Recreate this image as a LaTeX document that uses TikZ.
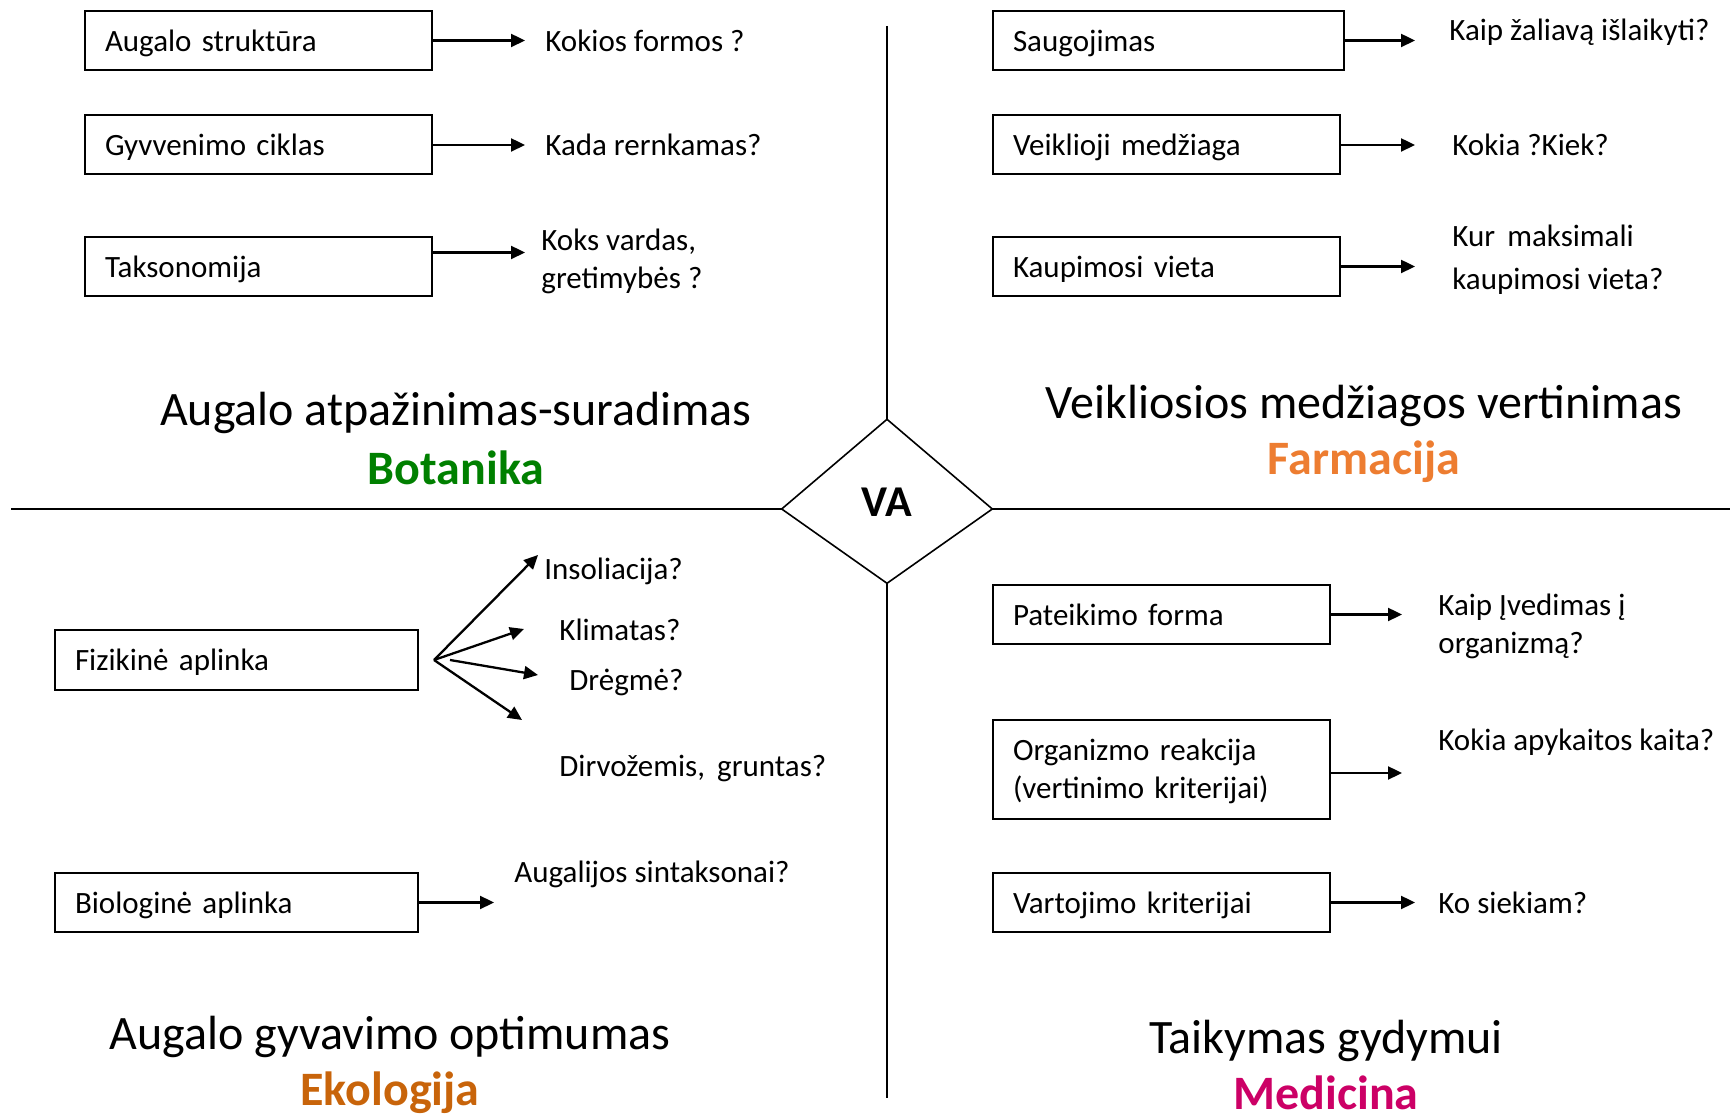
\documentclass[tikz,border=0pt]{standalone}
\usepackage{fontspec}
\setmainfont{Carlito}
\usepackage{tikz}
\usetikzlibrary{positioning,arrows.meta}

\definecolor{botgreen}{RGB}{0,128,0}
\definecolor{farmorange}{RGB}{237,125,49}
\definecolor{ekobrown}{RGB}{200,100,10}
\definecolor{medpink}{RGB}{204,0,102}

\begin{document}
\begin{tikzpicture}[x=0.5pt,y=0.5pt]
    \useasboundingbox (0,0) rectangle (1730,1114);
    \begin{scope}[>={Triangle[length=7pt,width=6.5pt]},
    		block/.style={rectangle,draw,line width=1pt,inner xsep=10pt,inner ysep=0pt,text depth=0pt,
    			align=left,minimum height=29.5pt,font=\fontsize{15.5}{19}\selectfont},
    		quest/.style={inner sep=0pt,text depth=0pt,align=left,font=\fontsize{15.5}{19}\selectfont},
    		title/.style={inner sep=0pt,font=\fontsize{24}{28}\selectfont},
    		field/.style={inner sep=0pt,font=\fontsize{24}{28}\selectfont\bfseries},
    		axis/.style={line width=0.9pt},
    		arrow/.style={black, ->, line width=1.15pt}]

    % botanika
    \node[block,text width=153.5pt](struk) at (258.5,1073.5) {Augalo struktūra};
    \node[block,text width=153.5pt](ciklas) at (258.5,969) {Gyvvenimo ciklas};
    \node[block,text width=153.5pt](takso) at (258.5,847.5) {Taksonomija};
    \node[quest,right=56pt of struk](formos) {Kokios formos ?};
    \node[quest,right=56pt of ciklas](kada) {Kada rernkamas?};
    \node[quest,right=54pt of takso,yshift=3.75pt](vardas) {Koks vardas,\\gretimybės ?};
    \node[title](botT) at (456,701) {Augalo atpažinimas-suradimas};
    \node[field,text=botgreen](botF) at (456,646) {Botanika};

    % farmacija
    \node[block,text width=155.5pt](saug) at (1168.5,1073.5) {Saugojimas};
    \node[block,text width=153.5pt](medz) at (1166.5,969) {Veiklioji medžiaga};
    \node[block,text width=153.5pt](kaup) at (1166.5,847.5) {Kaupimosi vieta};
    \node[quest,right=52pt of saug,yshift=5.25pt](islaik) {Kaip žaliavą išlaikyti?};
    \node[quest,right=55.5pt of medz](kiek) {Kokia ?Kiek?};
    \node[quest,right=55.5pt of kaup,yshift=4.5pt](kur) {Kur\, maksimali\\[2.5pt]kaupimosi vieta?};
    \node[title](farT) at (1364,708) {Veikliosios medžiagos vertinimas};
    \node[field,text=farmorange](farF) at (1364,652) {Farmacija};

    % ekologija
    \node[block,text width=161.5pt,minimum height=30pt](fiz) at (236.5,454) {Fizikinė aplinka};
    \node[block,text width=161.5pt](bio) at (236.5,211.5) {Biologinė aplinka};
    \node[quest,anchor=west](insol) at (544,545) {Insoliacija?};
    \node[quest,anchor=west](klim) at (559,484) {Klimatas?};
    \node[quest,anchor=west](dreg) at (569,434) {Drėgmė?};
    \node[quest,anchor=west](dirv) at (559,348) {Dirvožemis,\, gruntas?};
    \node[quest,right=47.5pt of bio,yshift=15.25pt](sint) {Augalijos sintaksonai?};
    \node[title](ekoT) at (390,77) {Augalo gyvavimo optimumas};
    \node[field,text=ekobrown](ekoF) at (390,21) {Ekologija};

    % medicina
    \node[block,text width=148.5pt](pateik) at (1161.5,499.5) {Pateikimo forma};
    \node[block,text width=148.5pt,minimum height=49.5pt,text depth=19.5pt](reak) at (1161.5,344.5)
    {Organizmo reakcija\\(vertinimo kriterijai)};
    \node[block,text width=148.5pt](vart) at (1161.5,211.5) {Vartojimo kriterijai};
    \node[quest,right=53.5pt of pateik,yshift=-4.5pt](ived) {Kaip Įvedimas į\\organizmą?};
    \node[quest,right=53.5pt of reak,yshift=14.75pt](apyk) {Kokia apykaitos kaita?};
    \node[quest,right=53.5pt of vart](siek) {Ko siekiam?};
    \node[title](medT) at (1326,73) {Taikymas gydymui};
    \node[field,text=medpink](medF) at (1326,21) {Medicina};

    % center
    \node[inner sep=0pt,font=\fontsize{22}{26}\selectfont\bfseries](va) at (887,611.5) {VA};
    \coordinate (vaN) at (887,694.7);
    \coordinate (vaS) at (887,530.7);
    \coordinate (vaW) at (781.7,605);
    \coordinate (vaE) at (992.3,605);
    \draw[line width=0.8pt] (vaN) -- (vaE) -- (vaS) -- (vaW) -- cycle;
    \coordinate (top) at (887,1088);
    \coordinate (bottom) at (887,16);
    \coordinate (left) at (11,605);
    \coordinate (right) at (1730,605);
    \draw[axis] (top) -- (vaN) (vaS) -- (bottom)
    	(left) -- (vaW) (vaE) -- (right);

    \coordinate (fork) at ([xshift=7.5pt]fiz.east);
    \coordinate (fork2) at ([xshift=15.5pt]fiz.east);
    \coordinate (tipIns) at (538,559);
    \coordinate (tipKlim) at (524,485);
    \coordinate (tipDreg) at (538,439);
    \coordinate (tipDirv) at (522,394);

    \draw[arrow,shorten >=10pt] (struk.east) -- (struk.east -| formos.west);
    \draw[arrow,shorten >=10pt] (ciklas.east) -- (ciklas.east -| kada.west);
    \draw[arrow,shorten >=8pt] ([yshift=7pt]takso.east) -- ([yshift=7pt]takso.east -| vardas.west);
    \draw[arrow,shorten >=17pt] (saug.east) -- (saug.east -| islaik.west);
    \draw[arrow,shorten >=18.5pt] (medz.east) -- (medz.east -| kiek.west);
    \draw[arrow,shorten >=18.5pt] (kaup.east) -- (kaup.east -| kur.west);
    \draw[arrow] (fork) -- (tipIns);
    \draw[arrow] (fork) -- (tipKlim);
    \draw[arrow] (fork2) -- (tipDreg);
    \draw[arrow] (fork) -- (tipDirv);
    \draw[arrow,shorten >=10pt] (bio.east) -- (bio.east -| sint.west);
    \draw[arrow,shorten >=18pt] (pateik.east) -- (pateik.east -| ived.west);
    \draw[arrow,shorten >=18pt] ([yshift=-1.75pt]reak.east) -- ([yshift=-1.75pt]reak.east -| apyk.west);
    \draw[arrow,shorten >=11.5pt] (vart.east) -- (vart.east -| siek.west);

    \end{scope}
\end{tikzpicture}
\end{document}
